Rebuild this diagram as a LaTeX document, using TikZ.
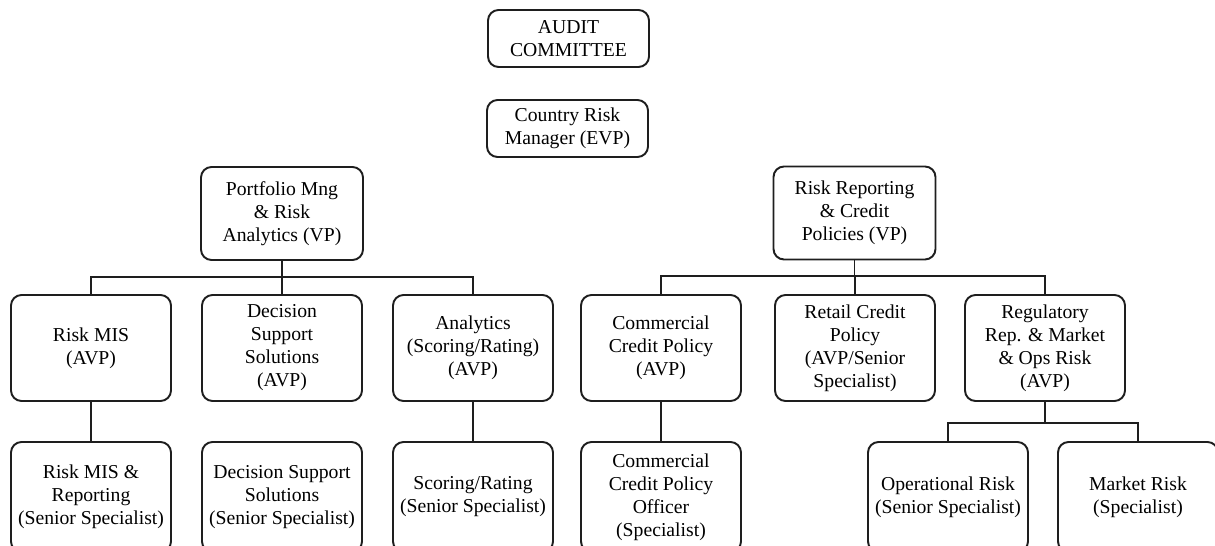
\documentclass[tikz,border=0pt]{standalone}
\usepackage{fontspec}
\setmainfont{Liberation Serif}
\usetikzlibrary{positioning, calc}
\definecolor{cline}{HTML}{1E1E1E}
\tikzset{
  every picture/.style={line width=1.1pt},
  box/.style={draw=cline, rounded corners=6pt, align=center, inner sep=2pt, minimum width=3.2cm, minimum height=2.12cm, font=\fontsize{11.2}{13.1}\selectfont},
  top/.style={box, minimum width=3.22cm, minimum height=1.14cm},
  vp/.style={box, minimum width=3.24cm, minimum height=1.86cm},
  low/.style={box, minimum height=2.2cm},
  link/.style={draw=cline, line width=1.1pt},
}

\begin{document}
\begin{tikzpicture}
  \useasboundingbox (0,0) rectangle (24.3,-10.92);
  % top of the chart, not linked
  \node[top] (audit) at (11.37,-0.77) {AUDIT\\COMMITTEE};
  \node[top] (crm) at (11.35,-2.57) {Country Risk\\Manager (EVP)};
  % the two VPs
  \node[vp] (pm) at (5.64,-4.27) {Portfolio Mng\\\& Risk\\Analytics (VP)};
  \node[vp] (rr) at (17.09,-4.26) {Risk Reporting\\\& Credit\\Policies (VP)};
  % AVP row
  \node[box] (mis) at (1.82,-6.96) {Risk MIS\\(AVP)};
  \node[box] (dss) at (5.64,-6.96) {Decision\\Support\\Solutions\\(AVP)};
  \node[box] (ana) at (9.46,-6.96) {Analytics\\(Scoring/Rating)\\(AVP)};
  \node[box] (ccp) at (13.22,-6.96) {Commercial\\Credit Policy\\(AVP)};
  \node[box] (rcp) at (17.10,-6.96) {Retail Credit\\Policy\\(AVP/Senior\\Specialist)};
  \node[box] (reg) at (20.90,-6.96) {Regulatory\\Rep. \& Market\\\& Ops Risk\\(AVP)};
  % specialists, cut by the page bottom
  \node[low] (misr) at (1.82,-9.94) {Risk MIS \&\\Reporting\\(Senior Specialist)};
  \node[low] (dssr) at (5.64,-9.94) {Decision Support\\Solutions\\(Senior Specialist)};
  \node[low] (scr) at (9.46,-9.94) {Scoring/Rating\\(Senior Specialist)};
  \node[low] (ccpo) at (13.22,-9.94) {Commercial\\Credit Policy\\Officer\\(Specialist)};
  \node[low] (ops) at (18.96,-9.94) {Operational Risk\\(Senior Specialist)};
  \node[low] (mkt) at (22.76,-9.94) {Market Risk\\(Specialist)};
  % connectors
  \foreach \n in {mis,dss,ana} \draw[link] (pm.south) -- ++(0,-0.32) -| (\n.north);
  \foreach \n in {ccp,rcp,reg} \draw[link] (rr.south) -- ++(0,-0.32) -| (\n.north);
  \draw[link] (mis) -- (misr);
  \draw[link] (ana) -- (scr);
  \draw[link] (ccp) -- (ccpo);
  \foreach \n in {ops,mkt} \draw[link] (reg.south) -- ++(0,-0.42) -| (\n.north);
\end{tikzpicture}
\end{document}
